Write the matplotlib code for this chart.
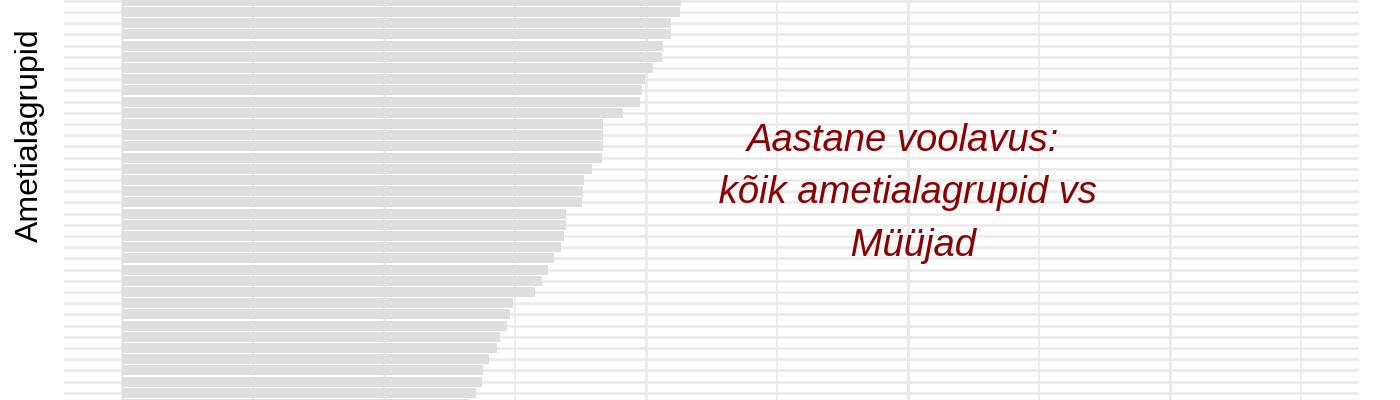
import matplotlib.pyplot as plt
from matplotlib.ticker import MultipleLocator

# Annual turnover per occupation group (bars, top to bottom); the chart is cropped,
# so only the visible rows are kept
voolavus = [0.2132, 0.2128, 0.2095, 0.2095, 0.2064, 0.2061, 0.2027, 0.1996, 0.1985,
            0.1976, 0.1911, 0.1837, 0.1837, 0.1837, 0.1832, 0.1794, 0.1763, 0.1760,
            0.1757, 0.1695, 0.1695, 0.1687, 0.1674, 0.1648, 0.1625, 0.1604, 0.1576,
            0.1491, 0.1481, 0.1471, 0.1443, 0.1431, 0.1402, 0.1377, 0.1374, 0.1351,
            0.1326]
rows = list(range(1, len(voolavus) + 1))

y_label = "Ametialagrupid"
note = "Aastane voolavus: \n kõik ametialagrupid vs \n Müüjad"

plt.rcParams['font.family'] = ['Liberation Sans', 'DejaVu Sans']

fig = plt.figure(figsize=(14, 4), dpi=100)
ax = fig.add_axes([64 / 1400, 0, 1295 / 1400, 1])

ax.barh(rows, voolavus, height=0.9, color='#DEDEDE', linewidth=0, zorder=2)

ax.set_xlim(-0.0221, 0.4721)
ax.set_ylim(36.64, 0.929)

ax.xaxis.set_major_locator(MultipleLocator(0.1))
ax.xaxis.set_minor_locator(MultipleLocator(0.05))
ax.yaxis.set_major_locator(MultipleLocator(1))
ax.grid(True, which='major', axis='x', color='#EBEBEB', linewidth=2.2, zorder=0)
ax.grid(True, which='minor', axis='x', color='#EBEBEB', linewidth=1.3, zorder=0)
ax.grid(True, which='major', axis='y', color='#EBEBEB', linewidth=1.9, zorder=0)
ax.set_axisbelow(True)

ax.tick_params(which='both', length=0, labelbottom=False, labelleft=False)
for s in ax.spines.values():
    s.set_visible(False)

ax.text(0.3, 18.2, note, ha='center', va='center', multialignment='center',
        fontsize=27.5, style='italic', color='#8B0000', linespacing=1.58, zorder=3)

fig.text(30 / 1400, 1 - 135 / 400, y_label, rotation=90, ha='center', va='center',
         fontsize=23, color='black')

fig.savefig('out.png', dpi=100)
